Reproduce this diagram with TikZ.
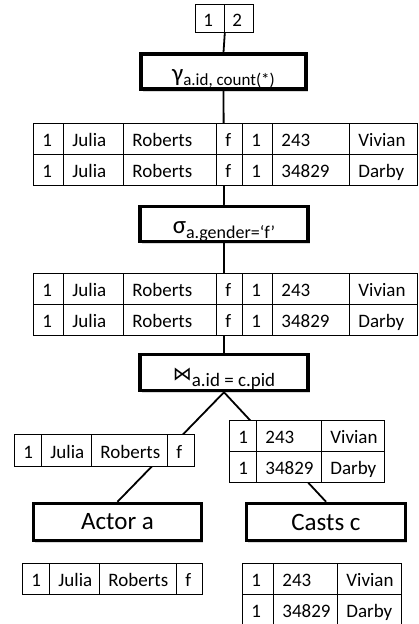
\documentclass[tikz,border=0pt]{standalone}
\usepackage{fontspec}
\setmainfont{Carlito}
\newfontfamily\bowfont{DejaVu Sans}
\usetikzlibrary{shadows}

\newcommand{\cellfont}{\fontsize{19}{21}\selectfont}
\newcommand{\opfont}{\fontsize{25}{28}\selectfont}
\newcommand{\subfont}{\fontsize{18}{20}\selectfont}

\tikzset{
  cell/.style={draw, fill=white, line width=0.8pt, anchor=north west,
    minimum height=31, inner xsep=9pt, inner ysep=0pt, align=left,
    text height=18pt, text depth=2pt, font=\cellfont},
  opbox/.style={draw, fill=white, line width=3.5pt, minimum height=35, font=\opfont,
    drop shadow={shadow xshift=1.5pt, shadow yshift=-2.5pt, opacity=.3}},
  link/.style={line width=1.8pt},
}

\begin{document}
\begin{tikzpicture}[x=1pt,y=-1pt]
    \useasboundingbox (0,0) rectangle (419,624);

    % result of the grouping
    \foreach \x/\t [count=\i] in {195/1, 224/2}
      \node[cell, minimum width=29, text width=13, minimum height=28, inner xsep=8pt] (res-\i) at (\x,4) {\t};

    % operators
    \node[opbox, minimum width=165, text height=20pt, text depth=1pt] (gamma) at (223.5,71.5)
      {γ\raisebox{-4pt}{\fontsize{17}{19}\selectfont a.id, count(*)}};
    \node[opbox, minimum width=168, text height=20pt, text depth=2pt] (sigma) at (224,224)
      {σ\raisebox{-5pt}{\subfont a.gender=‘f’}};
    \node[opbox, minimum width=168, minimum height=36, text height=20pt, text depth=5pt] (join) at (224,372.5)
      {{\bowfont\fontsize{19}{19}\selectfont ⋈}\raisebox{-6pt}{\fontsize{19}{21}\selectfont a.id = c.pid}};
    \node[opbox, minimum width=168, minimum height=37] (actor) at (117.5,522) {Actor a};
    \node[opbox, minimum width=159, minimum height=37] (casts) at (326,522) {Casts c};

    \draw[link] (res-1.south east) -- (gamma.north);
    \draw[link] (gamma.south) -- (sigma.north);
    \draw[link] (sigma.south) -- (join.north);
    \draw[link] (join.south) -- (actor.north);
    \draw[link] (join.south) -- (casts.north);

    % tuples after the selection
    \foreach \x/\w/\t [count=\i] in {33/30/1, 63/60/Julia, 123/93/Roberts, 216/26/f, 242/30/1, 272/77/243, 349/68/Vivian}
      \node[cell, minimum width=\w, text width=\w-18] (sel-a-\i) at (\x,123) {\t};
    \foreach \x/\w/\t [count=\i] in {33/30/1, 63/60/Julia, 123/93/Roberts, 216/26/f, 242/30/1, 272/77/34829, 349/68/Darby}
      \node[cell, minimum width=\w, text width=\w-18] (sel-b-\i) at (\x,154) {\t};

    % tuples after the join
    \foreach \x/\w/\t [count=\i] in {33/30/1, 63/60/Julia, 123/93/Roberts, 216/26/f, 242/30/1, 272/77/243, 349/68/Vivian}
      \node[cell, minimum width=\w, text width=\w-18] (jn-a-\i) at (\x,273) {\t};
    \foreach \x/\w/\t [count=\i] in {33/30/1, 63/60/Julia, 123/93/Roberts, 216/26/f, 242/30/1, 272/77/34829, 349/68/Darby}
      \node[cell, minimum width=\w, text width=\w-18] (jn-b-\i) at (\x,304) {\t};

    % inputs of the join
    \foreach \x/\w/\t [count=\i] in {14/27/1, 41/50/Julia, 91/76/Roberts, 167/27/f}
      \node[cell, minimum width=\w, text width=\w-18, minimum height=32] (act-\i) at (\x,434) {\t};
    \foreach \x/\w/\t [count=\i] in {229/27/1, 256/65/243, 321/63/Vivian}
      \node[cell, minimum width=\w, text width=\w-18] (cst-a-\i) at (\x,420) {\t};
    \foreach \x/\w/\t [count=\i] in {229/27/1, 256/65/34829, 321/63/Darby}
      \node[cell, minimum width=\w, text width=\w-18] (cst-b-\i) at (\x,451) {\t};

    % base relations
    \foreach \x/\w/\t [count=\i] in {22/27/1, 49/50/Julia, 99/77/Roberts, 176/26/f}
      \node[cell, minimum width=\w, text width=\w-18] (actin-\i) at (\x,563) {\t};
    \foreach \x/\w/\t [count=\i] in {242/31/1, 273/64/243, 337/64/Vivian}
      \node[cell, minimum width=\w, text width=\w-18] (cstin-a-\i) at (\x,563) {\t};
    \foreach \x/\w/\t [count=\i] in {242/31/1, 273/64/34829, 337/64/Darby}
      \node[cell, minimum width=\w, text width=\w-18, minimum height=29.5] (cstin-b-\i) at (\x,594) {\t};

\end{tikzpicture}
\end{document}
